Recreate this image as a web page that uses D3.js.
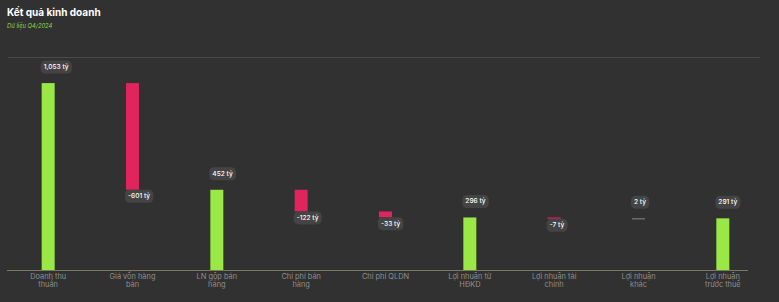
<!DOCTYPE html>
<html>
<head>
<meta charset="utf-8">
<script src="https://cdn.jsdelivr.net/npm/d3@7"></script>
<style>
  html, body { margin: 0; padding: 0; background: #313131; }
  #chart { width: 779px; height: 302px; }
  text { font-family: Inter, "Noto Sans", sans-serif; }
</style>
</head>
<body>
<div id="chart"></div>
<script>
// categories (two-line labels)
const categories = [
  ["Doanh thu", "thuần"],
  ["Giá vốn hàng", "bán"],
  ["LN gộp bán", "hàng"],
  ["Chi phí bán", "hàng"],
  ["Chi phí QLDN"],
  ["Lợi nhuận từ", "HĐKD"],
  ["Lợi nhuận tài", "chính"],
  ["Lợi nhuận", "khác"],
  ["Lợi nhuận", "trước thuế"]
];
// values in ty dong
const values = [1053, -601, 452, -122, -33, 296, -7, 2, 291];
// total = drawn from zero, delta = floats on running sum
const kinds = ["total", "delta", "total", "delta", "delta", "total", "delta", "delta", "total"];
const yTicks = [0, 1200];

const width = 779, height = 302;
const fmt = v => d3.format(",")(v).replace("−", "-");

// build waterfall segments
let running = 0;
const datas = values.map((v, i) => {
  let start, end;
  if (kinds[i] === "total") { start = 0; end = v; running = v; }
  else { start = running; end = running + v; running = end; }
  return { key: i, value: v, kind: kinds[i], start, end };
});

const svg = d3.select("#chart").append("svg")
  .attr("width", width).attr("height", height);

// titulo
svg.append("text").attr("x", 7).attr("y", 16)
  .attr("fill", "#ffffff").attr("font-size", 10).attr("font-weight", 700)
  .text("Kết quả kinh doanh");
svg.append("text").attr("x", 7).attr("y", 27.5)
  .attr("fill", "#8fd94a").attr("font-size", 5.8).attr("font-style", "italic")
  .text("Dữ liệu Q4/2024");

const xAxis = d3.scaleBand()
  .domain(datas.map(d => d.key))
  .range([6, 765])
  .paddingInner(0.846)
  .paddingOuter(0.423);

const yAxis = d3.scaleLinear().domain([0, 1200]).range([270, 57]);

// linha do topo
svg.append("g")
  .call(d3.axisLeft(yAxis).tickValues([yTicks[1]]).tickSize(-752).tickFormat(""))
  .attr("transform", "translate(8,0)")
  .call(g => g.select(".domain").remove())
  .call(g => g.selectAll("line").attr("stroke", "#4a4a4a").attr("stroke-width", 1));

// linha base
svg.append("g")
  .call(d3.axisLeft(yAxis).tickValues([yTicks[0]]).tickSize(-741).tickFormat(""))
  .attr("transform", "translate(7,0)")
  .call(g => g.select(".domain").remove())
  .call(g => g.selectAll("line").attr("stroke", "#7c7a5c").attr("stroke-width", 1));

const color = d => d.kind === "total" ? "#9ae845" : (d.value < 0 ? "#e0245e" : "#8a8a8a");

// barras
svg.append("g").selectAll("rect")
  .data(datas).enter().append("rect")
  .attr("x", d => xAxis(d.key))
  .attr("y", d => yAxis(Math.max(d.start, d.end)))
  .attr("width", xAxis.bandwidth())
  .attr("height", d => Math.max(1, Math.abs(yAxis(d.start) - yAxis(d.end))))
  .attr("fill", color);

// rotulos dos valores
const lab = svg.append("g").selectAll("g")
  .data(datas).enter().append("g")
  .attr("transform", d => {
    const x = xAxis(d.key) + 2;
    const y = d.value < 0 ? yAxis(Math.min(d.start, d.end)) + 6.5 : yAxis(Math.max(d.start, d.end)) - 16;
    return `translate(${x},${y})`;
  });
lab.append("text")
  .attr("fill", "#ffffff").attr("font-size", 6.6).attr("font-weight", 500)
  .attr("dominant-baseline", "central")
  .text(d => fmt(d.value) + " tỷ");
lab.each(function() {
  const g = d3.select(this);
  const bb = g.select("text").node().getBBox();
  g.insert("rect", "text")
    .attr("x", bb.x - 3).attr("y", -6.5)
    .attr("width", bb.width + 6).attr("height", 13)
    .attr("rx", 4.5).attr("fill", "#444444");
});

// eixo x
const xl = svg.append("g").selectAll("text")
  .data(datas).enter().append("text")
  .attr("x", d => xAxis(d.key) + xAxis.bandwidth() / 2)
  .attr("y", 279)
  .attr("text-anchor", "middle")
  .attr("fill", "#8e8e8e").attr("font-size", 7.4);
xl.selectAll("tspan")
  .data(d => categories[d.key]).enter().append("tspan")
  .attr("x", function() { return d3.select(this.parentNode).attr("x"); })
  .attr("dy", (t, i) => i === 0 ? 0 : 8)
  .text(t => t);
</script>
</body>
</html>
